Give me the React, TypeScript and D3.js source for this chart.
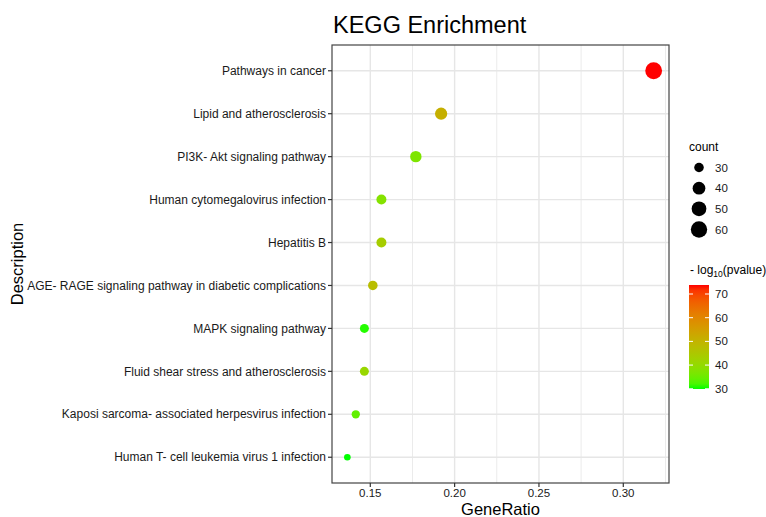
import * as d3 from "d3";
import React from "react";

const descriptions = [
  "Pathways in cancer",
  "Lipid and atherosclerosis",
  "PI3K- Akt signaling pathway",
  "Human cytomegalovirus infection",
  "Hepatitis B",
  "AGE- RAGE signaling pathway in diabetic complications",
  "MAPK signaling pathway",
  "Fluid shear stress and atherosclerosis",
  "Kaposi sarcoma- associated herpesvirus infection",
  "Human T- cell leukemia virus 1 infection",
];
const geneRatio = [0.318, 0.192, 0.177, 0.1566, 0.1566, 0.1515, 0.1465, 0.1465, 0.1414, 0.1364];
const counts = [63, 38, 35, 31, 31, 30, 29, 29, 28, 27];
const negLog10P = [73.8, 51, 37, 38, 43.5, 47.5, 30.5, 41, 34, 29.9];

const xTicks = [0.15, 0.2, 0.25, 0.3];
const xMinor = [0.175, 0.225, 0.275, 0.325];
const sizeBreaks = [30, 40, 50, 60];
const colorBreaks = [30, 40, 50, 60, 70];

const W = 766;
const H = 517;
const panel = { left: 332, right: 669, top: 45, bottom: 483 };
const font = "'Liberation Sans', Arial, sans-serif";

export default function App() {
  const x = d3.scaleLinear().domain([0.1273, 0.3271]).range([panel.left, panel.right]);
  const y = d3
    .scalePoint<string>()
    .domain(descriptions)
    .range([panel.top, panel.bottom])
    .padding(0.6);

  // ggplot-like area scale: radius grows with sqrt of rescaled count
  const sizeNorm = d3.scaleLinear().domain(d3.extent(counts) as [number, number]).range([0, 1]).clamp(true);
  const rScale = d3.scaleLinear().domain([0, 1]).range([3.3, 8.4]);
  const radius = (c: number) => rScale(Math.sqrt(sizeNorm(c)));

  const pExtent = d3.extent(negLog10P) as [number, number];
  const color = d3
    .scaleLinear<string>()
    .domain(pExtent)
    .range(["#00ff00", "#ff0000"])
    .interpolate(d3.interpolateLab);

  // colour bar
  const bar = { x: 689, w: 20, top: 285, bottom: 389 };
  const barY = d3.scaleLinear().domain(pExtent).range([bar.bottom, bar.top]);
  const stops = d3.range(0, 1.0001, 0.05);

  const sizeLegendY = d3.scalePoint<number>().domain(sizeBreaks).range([167.5, 229.5]);

  return (
    <svg width={W} height={H} style={{ position: "absolute", left: 0, top: 0, background: "#fff" }} fontFamily={font}>
      <defs>
        <linearGradient id="pgrad" x1="0" y1="1" x2="0" y2="0">
          {stops.map((t) => (
            <stop key={t} offset={t} stopColor={color(pExtent[0] + t * (pExtent[1] - pExtent[0]))} />
          ))}
        </linearGradient>
      </defs>

      <text x={panel.left + 1} y={33} fontSize={23.5} fill="#000">
        KEGG Enrichment
      </text>

      {/* grid */}
      {xMinor.filter((v) => x(v) < panel.right).map((v) => (
        <line key={"mi" + v} x1={x(v)} x2={x(v)} y1={panel.top} y2={panel.bottom} stroke="#ebebeb" strokeWidth={1} />
      ))}
      {xTicks.map((v) => (
        <line key={"ma" + v} x1={x(v)} x2={x(v)} y1={panel.top} y2={panel.bottom} stroke="#e6e6e6" strokeWidth={1.4} />
      ))}
      {descriptions.map((d) => (
        <line key={"gy" + d} x1={panel.left} x2={panel.right} y1={y(d)} y2={y(d)} stroke="#e6e6e6" strokeWidth={1.4} />
      ))}

      {/* points */}
      {descriptions.map((d, i) => (
        <circle key={"pt" + d} cx={x(geneRatio[i])} cy={y(d)} r={radius(counts[i])} fill={color(negLog10P[i])} />
      ))}

      <rect
        x={panel.left}
        y={panel.top}
        width={panel.right - panel.left}
        height={panel.bottom - panel.top}
        fill="none"
        stroke="#444"
        strokeWidth={1.2}
      />

      {/* y axis */}
      {descriptions.map((d) => (
        <g key={"yl" + d}>
          <line x1={panel.left - 4} x2={panel.left} y1={y(d)} y2={y(d)} stroke="#333" strokeWidth={1.2} />
          <text x={panel.left - 6} y={y(d)} dy="0.35em" textAnchor="end" fontSize={12} fill="#1a1a1a">
            {d}
          </text>
        </g>
      ))}

      {/* x axis */}
      {xTicks.map((v) => (
        <g key={"xl" + v}>
          <line x1={x(v)} x2={x(v)} y1={panel.bottom} y2={panel.bottom + 4} stroke="#333" strokeWidth={1.2} />
          <text x={x(v)} y={497} textAnchor="middle" fontSize={11.5} fill="#1a1a1a">
            {d3.format(".2f")(v)}
          </text>
        </g>
      ))}

      <text x={(panel.left + panel.right) / 2} y={515} textAnchor="middle" fontSize={16.5} fill="#000">
        GeneRatio
      </text>
      <text
        transform={`translate(23,${(panel.top + panel.bottom) / 2}) rotate(-90)`}
        textAnchor="middle"
        fontSize={16.5}
        fill="#000"
      >
        Description
      </text>

      {/* size legend */}
      <text x={689} y={151} fontSize={12} fill="#000">
        count
      </text>
      {sizeBreaks.map((b) => (
        <g key={"sl" + b}>
          <circle cx={699} cy={sizeLegendY(b)} r={radius(b)} fill="#000" />
          <text x={715} y={sizeLegendY(b)} dy="0.35em" fontSize={11.5} fill="#1a1a1a">
            {b}
          </text>
        </g>
      ))}

      {/* colour legend */}
      <text x={690} y={274} fontSize={12} fill="#000">
        - log
        <tspan fontSize={8.5} dy={3}>
          10
        </tspan>
        <tspan dy={-3}>(pvalue)</tspan>
      </text>
      <rect x={bar.x} y={bar.top} width={bar.w} height={bar.bottom - bar.top} fill="url(#pgrad)" />
      {colorBreaks.map((b) => (
        <g key={"cl" + b}>
          <line x1={bar.x} x2={bar.x + 4} y1={barY(b)} y2={barY(b)} stroke="#fff" strokeWidth={1} />
          <line x1={bar.x + bar.w - 4} x2={bar.x + bar.w} y1={barY(b)} y2={barY(b)} stroke="#fff" strokeWidth={1} />
          <text x={715} y={barY(b)} dy="0.35em" fontSize={11.5} fill="#1a1a1a">
            {b}
          </text>
        </g>
      ))}
    </svg>
  );
}
